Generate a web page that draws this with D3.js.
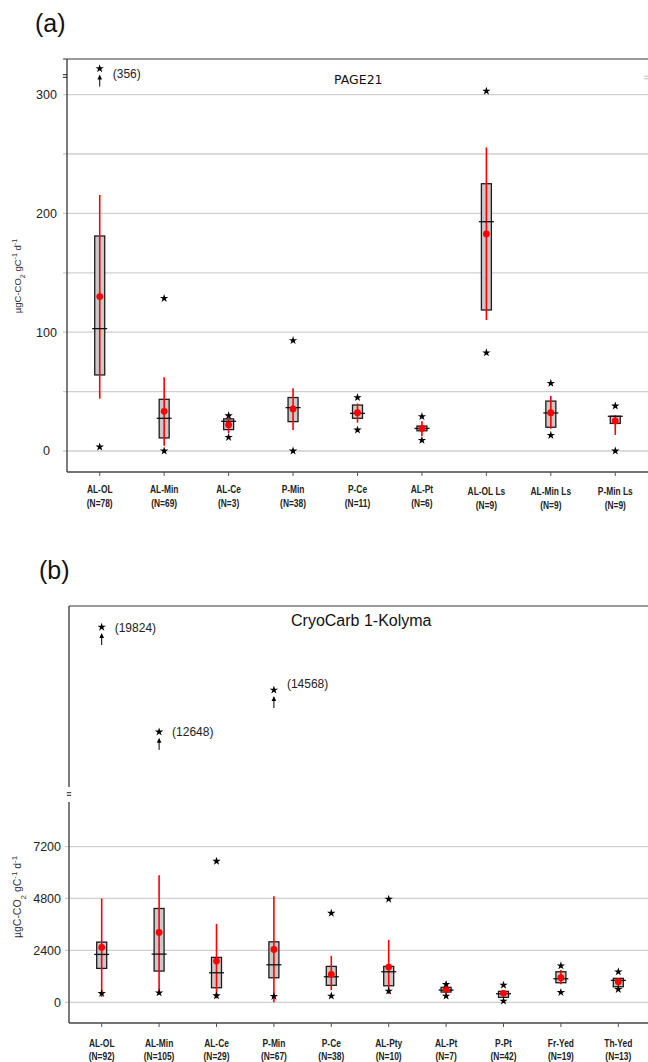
<!DOCTYPE html>
<html>
<head>
<meta charset="utf-8">
<script src="https://cdn.jsdelivr.net/npm/d3@7"></script>
<style>
  html, body { margin: 0; padding: 0; background: #fff; }
  svg { display: block; }
</style>
</head>
<body>
<script>
// ---------------- Panel (a) data : PAGE21 ----------------
const catsA   = ["AL-OL","AL-Min","AL-Ce","P-Min","P-Ce","AL-Pt","AL-OL Ls","AL-Min Ls","P-Min Ls"];
const nA      = [78, 69, 3, 38, 11, 6, 9, 9, 9];
const q3A     = [181, 43.5, 27, 45, 38.7, 21, 225, 42, 29.2];
const q1A     = [64, 11, 18, 24.7, 27.5, 17, 118.7, 20, 23.2];
const medA    = [103, 27.5, 25, 36.5, 31.7, 19, 193, 32, 29.2];
const meanA   = [130, 33.4, 22, 35.4, 32.2, 19, 182.7, 32.2, 25.3];
const wHiA    = [215.5, 62, 27, 52.8, 40, 25, 255.6, 46.3, 30];
const wLoA    = [44, 4.5, 15, 17.7, 23.8, 12.6, 110.3, 18.8, 13.5];
const starHiA = [356, 128.5, 29.7, 93, 45, 29, 303, 57, 37.9];
const starLoA = [3.4, 0, 11.5, 0, 17.7, 9, 82.7, 13.2, 0];
const ticksA  = [0, 100, 200, 300];
const gridA   = [0, 50, 100, 150, 200, 250, 300];

// ---------------- Panel (b) data : CryoCarb 1-Kolyma ----------------
const catsB   = ["AL-OL","AL-Min","AL-Ce","P-Min","P-Ce","AL-Pty","AL-Pt","P-Pt","Fr-Yed","Th-Yed"];
const nB      = [92, 105, 29, 67, 38, 10, 7, 42, 19, 13];
const q3B     = [2783, 4338, 2077, 2797, 1661, 1661, 692, 508, 1412, 1108];
const q1B     = [1568, 1445, 674, 1135, 785, 766, 475, 231, 905, 720];
const medB    = [2215, 2229, 1366, 1735, 1182, 1412, 568, 397, 1089, 1015];
const meanB   = [2538, 3231, 1906, 2446, 1292, 1629, 582, 415, 1135, 951];
const wHiB    = [4800, 5875, 3628, 4906, 2151, 2889, 740, 568, 1491, 1108];
const wLoB    = [258, 540, 185, 0, 568, 383, 415, 277, 831, 660];
const starHiB = [19824, 12648, 6522, 14568, 4121, 4768, 831, 798, 1689, 1412];
const starLoB = [415, 443, 305, 277, 291, 522, 291, 60, 461, 600];
const ticksB  = [0, 2400, 4800, 7200];

const svg = d3.select("body").append("svg").attr("width", 648).attr("height", 1062);

const starSym = d3.symbol().type(d3.symbolStar).size(22)();

function drawPanel(o) {
  const g = svg.append("g");
  const x = o.x, y = o.y;
  const cx = c => x(c) + x.bandwidth() / 2;

  // gridlines
  g.selectAll(".grid").data(o.grid).join("line")
    .attr("x1", o.gridX0).attr("x2", 648)
    .attr("y1", d => y(d)).attr("y2", d => y(d))
    .attr("stroke", "#cfcfcf").attr("stroke-width", 1.3);

  // y tick labels
  g.selectAll(".yt").data(o.ticks).join("text")
    .attr("x", o.tickX).attr("y", d => y(d) + 4.5)
    .attr("text-anchor", o.tickAnchor)
    .attr("font-family", "Liberation Sans, Arial, sans-serif")
    .attr("font-size", 12.5).attr("fill", "#222")
    .text(d => d);

  // top frame line
  g.append("line").attr("x1", o.frameX0).attr("x2", 648)
    .attr("y1", o.top).attr("y2", o.top)
    .attr("stroke", "#9a9a9a").attr("stroke-width", 2);

  // y axis line(s)
  o.axisSegs.forEach(s => {
    g.append("line").attr("x1", o.axisX).attr("x2", o.axisX)
      .attr("y1", s[0]).attr("y2", s[1])
      .attr("stroke", "#444").attr("stroke-width", 1.4);
  });
  // x axis
  g.append("line").attr("x1", o.axisX).attr("x2", 648)
    .attr("y1", o.bottom).attr("y2", o.bottom)
    .attr("stroke", "#444").attr("stroke-width", 1.4);
  // x ticks
  g.selectAll(".xt").data(o.cats).join("line")
    .attr("x1", d => cx(d)).attr("x2", d => cx(d))
    .attr("y1", o.bottom).attr("y2", o.bottom + 4)
    .attr("stroke", "#555").attr("stroke-width", 1);

  // break markers "="
  o.breaks.forEach(b => {
    [-1.3, 1.3].forEach(dy => {
      g.append("line").attr("x1", b[0] - 2.2).attr("x2", b[0] + 2.2)
        .attr("y1", b[1] + dy).attr("y2", b[1] + dy)
        .attr("stroke", b[2] || "#222").attr("stroke-width", 1);
    });
  });

  const idx = o.cats.map((c, i) => i);

  // boxes
  g.selectAll(".box").data(idx).join("rect")
    .attr("x", i => cx(o.cats[i]) - 5)
    .attr("width", 10)
    .attr("y", i => y(o.q3[i]))
    .attr("height", i => y(o.q1[i]) - y(o.q3[i]))
    .attr("fill", "#c9c9c9").attr("stroke", "#1c1c1c").attr("stroke-width", 1.3);

  // red whiskers
  g.selectAll(".wh").data(idx).join("line")
    .attr("x1", i => cx(o.cats[i])).attr("x2", i => cx(o.cats[i]))
    .attr("y1", i => y(o.wHi[i])).attr("y2", i => y(o.wLo[i]))
    .attr("stroke", "#ff0000").attr("stroke-width", 1.6);

  // medians
  g.selectAll(".med").data(idx).join("line")
    .attr("x1", i => cx(o.cats[i]) - 7.5).attr("x2", i => cx(o.cats[i]) + 7.5)
    .attr("y1", i => y(o.med[i])).attr("y2", i => y(o.med[i]))
    .attr("stroke", "#111").attr("stroke-width", 1.3);

  // means
  g.selectAll(".mean").data(idx).join("circle")
    .attr("cx", i => cx(o.cats[i])).attr("cy", i => y(o.mean[i]))
    .attr("r", 3.4).attr("fill", "#ff0000");

  // low stars
  g.selectAll(".slo").data(idx).join("path")
    .attr("d", starSym)
    .attr("transform", i => `translate(${cx(o.cats[i])},${y(o.sLo[i])})`)
    .attr("fill", "#000");

  // high stars (in range)
  const inR = idx.filter(i => o.sHi[i] <= o.breakAt);
  g.selectAll(".shi").data(inR).join("path")
    .attr("d", starSym)
    .attr("transform", i => `translate(${cx(o.cats[i])},${y(o.sHi[i])})`)
    .attr("fill", "#000");

  // high stars beyond break
  const outR = idx.filter(i => o.sHi[i] > o.breakAt);
  outR.forEach(i => {
    const px = cx(o.cats[i]);
    const py = o.yBreak(o.sHi[i]);
    g.append("path").attr("d", starSym)
      .attr("transform", `translate(${px},${py})`).attr("fill", "#000");
    g.append("line").attr("x1", px).attr("x2", px)
      .attr("y1", py + 8).attr("y2", py + 18)
      .attr("stroke", "#000").attr("stroke-width", 1);
    g.append("path")
      .attr("d", `M${px},${py + 6} L${px - 2.3},${py + 11} L${px + 2.3},${py + 11} Z`)
      .attr("fill", "#000");
    const sh = (o.labelShift && o.labelShift[o.cats[i]]) || 0;
    g.append("text")
      .attr("x", px + 13).attr("y", py + o.labelDy + sh)
      .attr("font-family", "Liberation Sans, Arial, sans-serif")
      .attr("font-size", 12).attr("fill", "#222")
      .text(`(${o.sHi[i]})`);
  });

  // x category labels
  idx.forEach(i => {
    const px = cx(o.cats[i]);
    const extra = (o.lowerLabels && o.cats[i].includes(" ")) ? 2 : 0;
    [[o.cats[i], o.lab1], [`(N=${o.ns[i]})`, o.lab2]].forEach(([t, yy]) => {
      g.append("text")
        .attr("transform", `translate(${px},${yy + extra}) scale(0.8,1)`)
        .attr("text-anchor", "middle")
        .attr("font-family", "Liberation Sans, Arial, sans-serif")
        .attr("font-weight", "bold").attr("font-size", 10.5)
        .attr("fill", "#222").text(t);
    });
  });

  // y axis label
  const yl = g.append("text")
    .attr("transform", `translate(${o.ylab[0]},${o.ylab[1]}) rotate(-90)`)
    .attr("text-anchor", "middle")
    .attr("font-family", "Liberation Sans, Arial, sans-serif")
    .attr("font-size", o.ylab[2]).attr("fill", "#333");
  yl.append("tspan").text("µgC-CO");
  yl.append("tspan").attr("baseline-shift", "sub").attr("font-size", o.ylab[2] * 0.75).text("2");
  yl.append("tspan").text(" gC");
  yl.append("tspan").attr("baseline-shift", "super").attr("font-size", o.ylab[2] * 0.75).text("-1");
  yl.append("tspan").text(" d");
  yl.append("tspan").attr("baseline-shift", "super").attr("font-size", o.ylab[2] * 0.75).text("-1");

  // title
  g.append("text").attr("x", o.title[1]).attr("y", o.title[2])
    .attr("font-family", o.title[3]).attr("font-size", o.title[4])
    .attr("fill", "#111").text(o.title[0]);

  // panel letter
  g.append("text").attr("x", o.letter[1]).attr("y", o.letter[2])
    .attr("font-family", "Liberation Sans, Arial, sans-serif")
    .attr("font-size", 25).attr("fill", "#111").text(o.letter[0]);
}

// ---------- Panel (a) ----------
const xA = d3.scaleBand().domain(catsA).range([67.5, 647.5]);
const yA = d3.scaleLinear().domain([-17.7, 330]).range([472, 59]);
const yBreakA = d3.scaleLinear().domain([330, 380]).range([79, 59]);

drawPanel({
  cats: catsA, ns: nA, q1: q1A, q3: q3A, med: medA, mean: meanA,
  wHi: wHiA, wLo: wLoA, sHi: starHiA, sLo: starLoA,
  x: xA, y: yA, yBreak: yBreakA, breakAt: 330,
  grid: gridA, ticks: ticksA, gridX0: 63, tickX: 46.5, tickAnchor: "middle",
  top: 59, bottom: 472, frameX0: 63, axisX: 67, axisSegs: [[59, 472]],
  breaks: [[65, 76], [646.5, 77.5, "#bbb"]],
  labelDy: 9, lab1: 493, lab2: 507, lowerLabels: true,
  ylab: [21, 276, 9.5],
  title: ["PAGE21", 334, 83.5, "DejaVu Sans, sans-serif", 12.5],
  letter: ["(a)", 35, 32]
});

// ---------- Panel (b) ----------
const xB = d3.scaleBand().domain(catsB).range([73, 647]);
const yB = d3.scaleLinear().domain([-955, 9258]).range([1023, 802]);
const yBreakB = d3.scaleLinear().domain([12000, 14568, 20500]).range([746, 690, 619]);

drawPanel({
  cats: catsB, ns: nB, q1: q1B, q3: q3B, med: medB, mean: meanB,
  wHi: wHiB, wLo: wLoB, sHi: starHiB, sLo: starLoB,
  x: xB, y: yB, yBreak: yBreakB, breakAt: 9258,
  grid: ticksB, ticks: ticksB, gridX0: 65, tickX: 61, tickAnchor: "end",
  top: 606, bottom: 1023, frameX0: 69, axisX: 69, axisSegs: [[606, 787], [802, 1023]],
  breaks: [[69, 794]],
  labelDy: 4.5, labelShift: {"P-Min": -7}, lab1: 1047, lab2: 1060, lowerLabels: false,
  ylab: [21, 897, 10.5],
  title: ["CryoCarb 1-Kolyma", 291, 626, "Liberation Sans, Arial, sans-serif", 16],
  letter: ["(b)", 39, 579]
});
</script>
</body>
</html>
